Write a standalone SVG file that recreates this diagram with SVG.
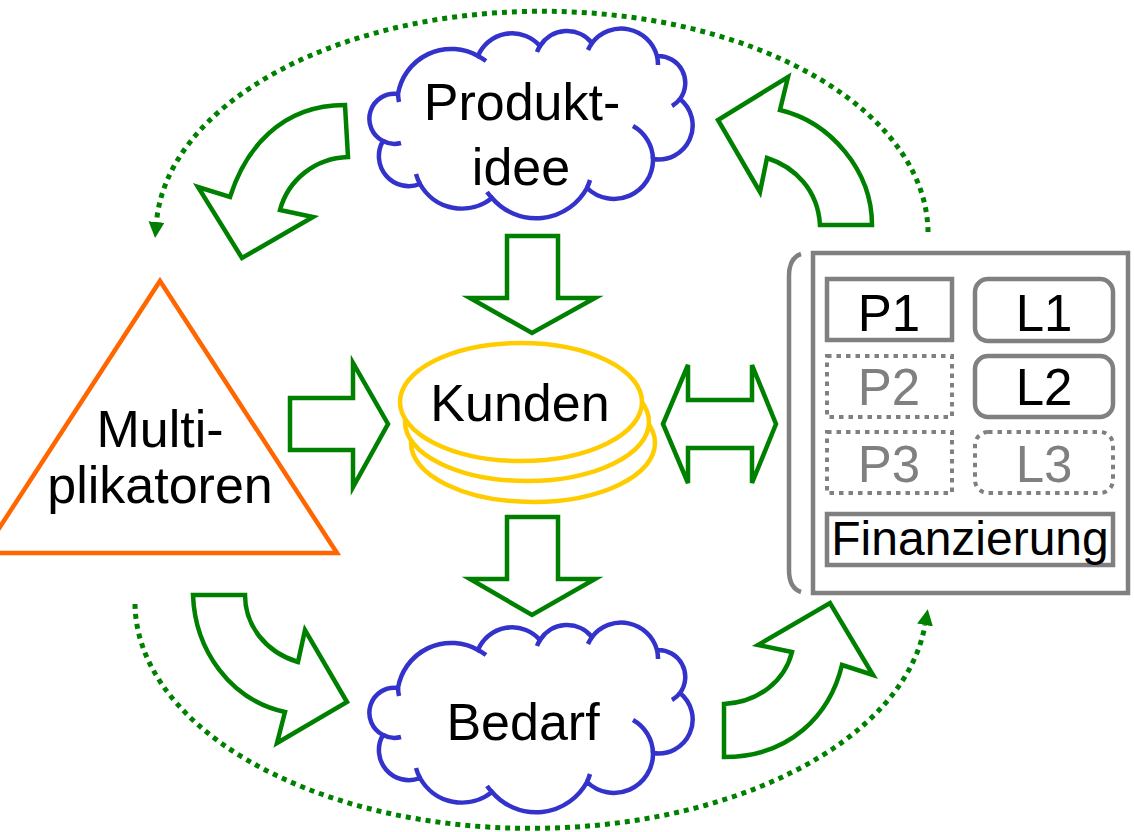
<svg xmlns="http://www.w3.org/2000/svg" xmlns:xlink="http://www.w3.org/1999/xlink" width="1134" height="832" viewBox="0 0 1134 832">
<defs>
<style>
.lbl{font-family:"Liberation Sans",Arial,sans-serif;font-size:52px;fill:#000;text-anchor:middle}
.sm{font-size:51px}
.dim{fill:#808080}
.cloud{fill:#fff;stroke:#3333CC;stroke-width:4.5}
.hook{fill:none;stroke:#3333CC;stroke-width:4.5}
.blk{fill:#fff;stroke:#008000;stroke-width:4.5;stroke-linejoin:miter}
.dots{fill:none;stroke:#008000;stroke-width:5;stroke-dasharray:5 5}
.gbox{fill:#fff;stroke:#808080;stroke-width:4.5}
.gdot{fill:#fff;stroke:#808080;stroke-width:4;stroke-dasharray:4.5 5}
.coin{fill:#fff;stroke:#FFCC00;stroke-width:4.5}
</style>
<marker id="dotHead" viewBox="0 0 16 16" refX="0" refY="8" markerWidth="16" markerHeight="16" markerUnits="userSpaceOnUse" orient="auto">
<path d="M0,0 L16,8 L0,16 Z" fill="#008000"/>
</marker>
<path id="cloudShape" d="M383,735 A25,25 0 0 1 398,688 A54,54 0 0 1 478,650 A37,37 0 0 1 540,640 A32,32 0 0 1 592,637 A37,37 0 0 1 657,650 A27,27 0 0 1 680,693 A34,34 0 0 1 653,753 A39,39 0 0 1 587,782 A58,58 0 0 1 492,792 A48,48 0 0 1 420,778 A30,30 0 0 1 383,735 Z"/>
<path id="cloudHooks" d="M383,735 A25,25 0 0 0 401,737 M420,778 A48,48 0 0 1 416,768 M492,792 A58,58 0 0 1 487,786 M587,782 A58,58 0 0 0 590,774 M653,753 A39,39 0 0 0 633,720 M680,693 A27,27 0 0 1 672,700 M657,650 A37,37 0 0 1 658,659 M592,637 A37,37 0 0 0 588,644 M540,640 A32,32 0 0 0 537,646 M478,650 A54,54 0 0 1 486,655 M398,688 A54,54 0 0 0 399,696"/>
</defs>
<rect width="1134" height="832" fill="#fff"/>

<g id="connectors">
<path class="dots" d="M928,232 A386,222 0 0 0 156.5,222" marker-end="url(#dotHead)"/>
<path class="dots" d="M135,604 A396,226 0 0 0 925,625" marker-end="url(#dotHead)"/>
<path class="blk" d="M345,105 C280,105 245,150 230,197 L198,187 L242,258 L313,217 L280,210 C288,180 315,158 348,157 Z"/>
<path class="blk" d="M872,225 C872,170 830,122 780,110 L788,77 L718,120 L760,192 L767,158 C795,167 818,190 820,225 Z"/>
<path class="blk" d="M193,595 L245,595 C245,625 265,652 298,662 L305,630 L347,702 L277,743 L285,712 C230,700 195,650 193,595 Z"/>
<path class="blk" d="M724,757 C790,757 830,715 842,665 L873,675 L830,603 L758,645 L792,652 C785,680 760,702 724,704 Z"/>
<polygon class="blk" points="507,236 558,236 558,298 595,298 532,333 470,298 507,298"/>
<polygon class="blk" points="507,517 558,517 558,579 595,579 532,615 470,579 507,579"/>
<polygon class="blk" points="290,398 353,398 353,363 388,424 353,487 353,450 290,450"/>
<polygon class="blk" points="663,424 688,365 688,400 752,400 752,365 776,424 752,483 752,448 688,448 688,483"/>
</g>

<g id="produktidee">
<g transform="translate(0,-594)">
<use xlink:href="#cloudShape" href="#cloudShape" class="cloud"/>
<use xlink:href="#cloudHooks" href="#cloudHooks" class="hook"/>
</g>
<text class="lbl" x="522" y="120">Produkt-</text>
<text class="lbl" x="521" y="185">idee</text>
</g>

<g id="bedarf">
<use xlink:href="#cloudShape" href="#cloudShape" class="cloud"/>
<use xlink:href="#cloudHooks" href="#cloudHooks" class="hook"/>
<text class="lbl" x="523" y="740">Bedarf</text>
</g>

<g id="kunden">
<ellipse class="coin" cx="533" cy="443" rx="122" ry="59"/>
<ellipse class="coin" cx="527" cy="422" rx="122" ry="59"/>
<ellipse class="coin" cx="521" cy="402" rx="121" ry="59"/>
<text class="lbl" x="520" y="421">Kunden</text>
</g>

<g id="multiplikatoren">
<polygon points="160,281 337,553 -17,553" fill="#fff" stroke="#FF6600" stroke-width="4.5" stroke-linejoin="miter"/>
<text class="lbl" x="160" y="447">Multi-</text>
<text class="lbl" x="160" y="503">plikatoren</text>
</g>

<g id="ressourcen">
<path d="M801,254 Q789,258 789,276 L789,570 Q789,588 801,592" fill="none" stroke="#808080" stroke-width="4.5"/>
<rect class="gbox" x="813" y="253" width="315" height="340"/>
<rect class="gbox" x="827" y="279" width="125" height="61"/>
<text class="lbl sm" x="889" y="331">P1</text>
<rect class="gbox" x="975" y="279" width="138" height="62" rx="13"/>
<text class="lbl sm" x="1044" y="331">L1</text>
<rect class="gdot" x="827" y="356" width="125" height="61"/>
<text class="lbl sm dim" x="889" y="405">P2</text>
<rect class="gbox" x="975" y="356" width="138" height="61" rx="13"/>
<text class="lbl sm" x="1044" y="405">L2</text>
<rect class="gdot" x="827" y="432" width="125" height="61"/>
<text class="lbl sm dim" x="889" y="482">P3</text>
<rect class="gdot" x="975" y="432" width="138" height="61" rx="13"/>
<text class="lbl sm dim" x="1044" y="482">L3</text>
<rect class="gbox" x="827" y="514" width="286" height="51"/>
<text class="lbl" style="font-size:48px" x="970" y="555">Finanzierung</text>
</g>
</svg>
